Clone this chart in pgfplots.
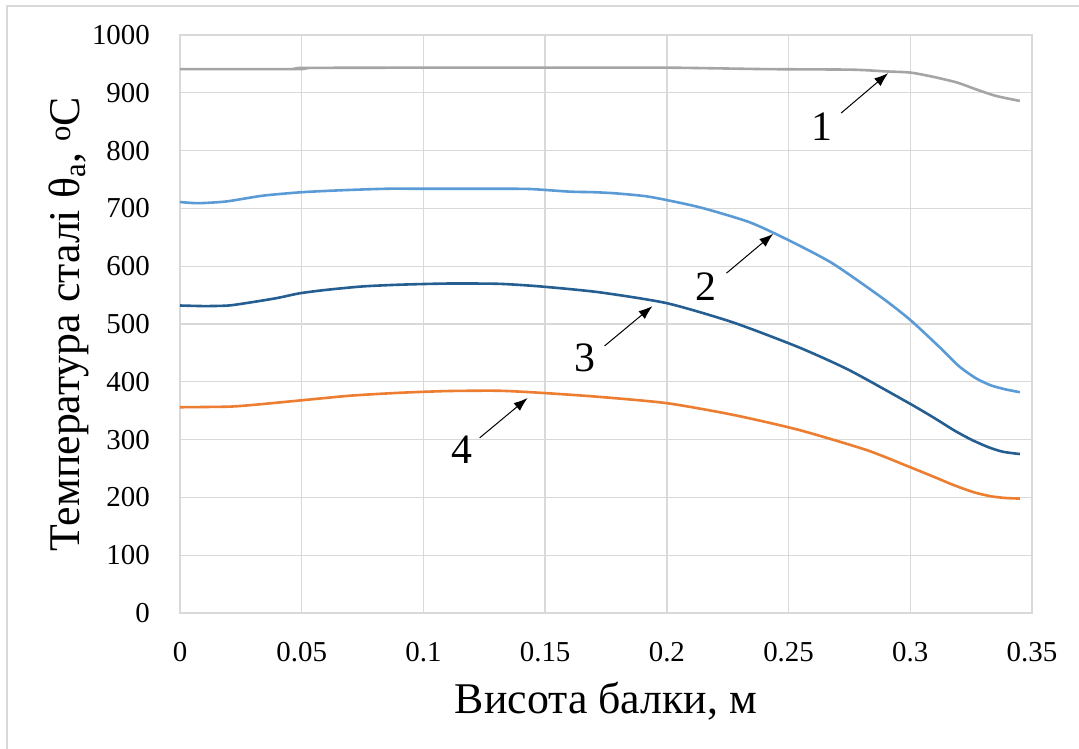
\documentclass[border=0pt]{standalone}
\usepackage{fontspec}
\setmainfont{Liberation Serif}
\usepackage{pgfplots}
\pgfplotsset{compat=1.18}
\usetikzlibrary{arrows.meta}
\definecolor{gridgray}{HTML}{D9D9D9}
\definecolor{sgray}{HTML}{A5A5A5}
\definecolor{slblue}{HTML}{5B9BD5}
\definecolor{sdblue}{HTML}{255E91}
\definecolor{sorange}{HTML}{ED7D31}
\begin{document}
\begin{tikzpicture}
\useasboundingbox (0bp,0bp) rectangle (1079bp,749bp);
\draw[color=gridgray, line width=1.5bp] (7bp,0bp) -- (7bp,743bp) -- (1079bp,743bp);
\begin{axis}[
  at={(180bp,136bp)}, anchor=south west,
  scale only axis, width=852bp, height=578bp,
  xmin=0, xmax=0.35, ymin=0, ymax=1000,
  xtick={0,0.05,0.1,0.15,0.2,0.25,0.3,0.35},
  xticklabels={0,0.05,0.1,0.15,0.2,0.25,0.3,0.35},
  ytick={0,100,200,300,400,500,600,700,800,900,1000},
  yticklabels={0,100,200,300,400,500,600,700,800,900,1000},
  grid=major,
  grid style={color=gridgray, line width=1.3bp},
  axis line style={color=gridgray, line width=1.3bp},
  major tick length=0pt,
  tick style={draw=none},
  /pgf/number format/assume math mode=true,
  /pgf/number format/1000 sep={},
  ticklabel style={font=\fontsize{29}{34}\selectfont, inner sep=0pt},
  xticklabel style={anchor=north, yshift=-29bp},
  yticklabel style={anchor=east, xshift=-30bp},
  xlabel={Висота балки, м},
  ylabel={Температура сталі θ\textsubscript{a}, \textsuperscript{o}C},
  label style={font=\fontsize{44}{50}\selectfont},
  xlabel style={at={(axis description cs:0.5,-0.1747)}, anchor=base},
  ylabel style={at={(axis description cs:-0.1174,0.5)}, anchor=base},
  clip=false,
  every axis plot/.append style={line width=2.6bp, smooth, tension=0.4},
]
\addplot[sgray] coordinates {
(0,941) (0.049,941) (0.05,943) (0.1,943.5) (0.15,943.5) (0.2,943.5) (0.24,941) (0.276,940) (0.29,937) (0.3,935) (0.309,928) (0.319,918) (0.327,906) (0.334,896) (0.339,891) (0.345,886)
};
\addplot[slblue] coordinates {
(0,711) (0.0075,709) (0.019,712) (0.034,722) (0.05,728) (0.067,731.5) (0.085,734) (0.1,734) (0.13,734) (0.144,733.5) (0.16,729) (0.17,728) (0.179,726) (0.193,720) (0.2134,702) (0.234,676) (0.25,645) (0.268,605) (0.2885,545) (0.3,507) (0.312,460) (0.32,427) (0.327,406) (0.333,394) (0.339,387) (0.345,382)
};
\addplot[sdblue] coordinates {
(0,532) (0.01,531) (0.02,532) (0.03,538) (0.04,545) (0.049,553) (0.06,559) (0.075,565) (0.0903,568) (0.11,570) (0.131,569.5) (0.148,565) (0.172,555) (0.2,536) (0.227,503) (0.254,460) (0.275,420) (0.2995,363) (0.31,337) (0.318,316) (0.325,300) (0.332,287) (0.338,279) (0.345,275)
};
\addplot[sorange] coordinates {
(0,356) (0.02,357) (0.03,360) (0.05,368) (0.07,376) (0.0903,381) (0.11,384) (0.131,384.5) (0.148,381) (0.172,374) (0.2,363) (0.227,343) (0.254,317) (0.282,282) (0.2995,253) (0.31,235) (0.318,221) (0.326,209) (0.333,202) (0.339,199) (0.345,198)
};
\draw[-{Latex[length=14bp,width=10bp]}, line width=1bp] (axis cs:0.2716,865) -- (axis cs:0.2909,934);
\draw[-{Latex[length=14bp,width=10bp]}, line width=1bp] (axis cs:0.2245,588) -- (axis cs:0.2437,656);
\draw[-{Latex[length=14bp,width=10bp]}, line width=1bp] (axis cs:0.1744,462) -- (axis cs:0.1941,531);
\draw[-{Latex[length=14bp,width=10bp]}, line width=1bp] (axis cs:0.1231,303) -- (axis cs:0.1428,372);
\node[font=\fontsize{42}{48}\selectfont, inner sep=0pt] at (axis cs:0.2638,841) {1};
\node[font=\fontsize{42}{48}\selectfont, inner sep=0pt] at (axis cs:0.2162,564) {2};
\node[font=\fontsize{42}{48}\selectfont, inner sep=0pt] at (axis cs:0.1662,441) {3};
\node[font=\fontsize{42}{48}\selectfont, inner sep=0pt] at (axis cs:0.1157,282) {4};
\end{axis}
\end{tikzpicture}
\end{document}
